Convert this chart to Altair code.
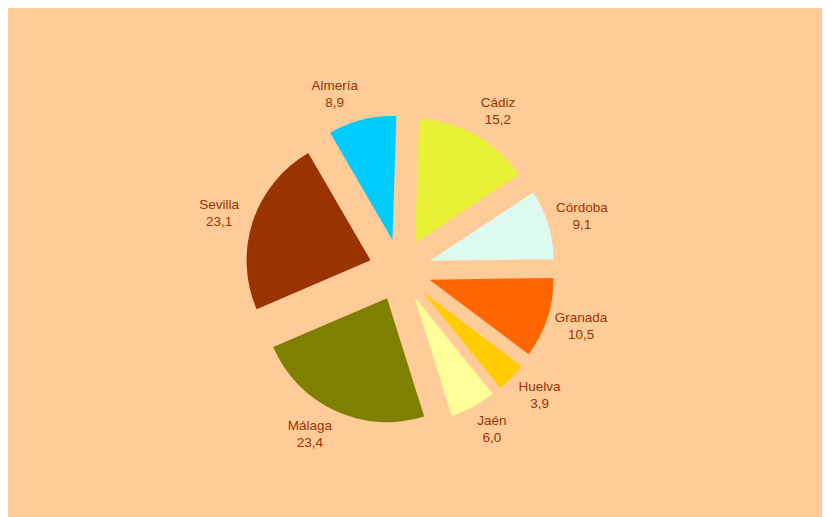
import altair as alt
import pandas as pd

provincias = ["Cádiz", "Córdoba", "Granada", "Huelva", "Jaén", "Málaga", "Sevilla", "Almería"]
valores = [15.2, 9.1, 10.5, 3.9, 6.0, 23.4, 23.1, 8.9]
colores = ["#E8F035", "#DCFAF0", "#FF6600", "#FFCC00", "#FFFF99", "#808000", "#993300", "#00CCFF"]

df = pd.DataFrame({
    "idx": list(range(len(provincias))),
    "provincia": provincias,
    "valor": valores,
    "etiqueta": [f"{p}\n{v:.1f}".replace(".", ",") for p, v in zip(provincias, valores)],
})

CX, CY = 392, 262
EXPLODE = 31
ROT = 0.032
LABEL_R = 164
HALF_H = 17
CHAR_HALF_W = 3.6

base = (
    alt.Chart(df)
    .transform_window(cum="sum(valor)", sort=[alt.SortField("idx")], frame=[None, 0])
    .transform_joinaggregate(total="sum(valor)")
    .transform_calculate(
        start=f"(datum.cum - datum.valor) / datum.total * 2 * PI + {ROT}",
        end=f"datum.cum / datum.total * 2 * PI + {ROT}",
    )
    .transform_calculate(mid="(datum.start + datum.end) / 2")
    .transform_calculate(
        cx=f"{CX} + {EXPLODE} * sin(datum.mid)",
        cy=f"{CY} - {EXPLODE} * cos(datum.mid)",
        lx=(
            f"{CX} + {LABEL_R} * sin(datum.mid)"
            f" + (sin(datum.mid) >= 0 ? 1 : -1) * length(datum.provincia) * {CHAR_HALF_W}"
        ),
        ly=f"{CY} - ({LABEL_R} + {HALF_H}) * cos(datum.mid)",
    )
)

arcs = base.mark_arc(outerRadius=124, stroke=None).encode(
    theta=alt.Theta("start:Q", scale=None),
    theta2="end:Q",
    x=alt.X("cx:Q", scale=None, axis=None),
    y=alt.Y("cy:Q", scale=None, axis=None),
    color=alt.Color("provincia:N", scale=alt.Scale(domain=provincias, range=colores), legend=None),
)

labels = base.mark_text(
    font="Liberation Sans",
    fontSize=13.5,
    lineBreak="\n",
    lineHeight=17,
    dy=-8.5,
    color="#993300",
    align="center",
    baseline="middle",
).encode(
    x=alt.X("lx:Q", scale=None, axis=None),
    y=alt.Y("ly:Q", scale=None, axis=None),
    text="etiqueta:N",
)

chart = (
    alt.layer(arcs, labels)
    .properties(
        width=814,
        height=509,
        background="#FFCC99",
        padding=0,
        autosize=alt.AutoSizeParams(type="fit", contains="padding"),
    )
    .configure_view(stroke=None)
)

chart.save("out.html", embed_options={"renderer": "svg", "actions": False})
